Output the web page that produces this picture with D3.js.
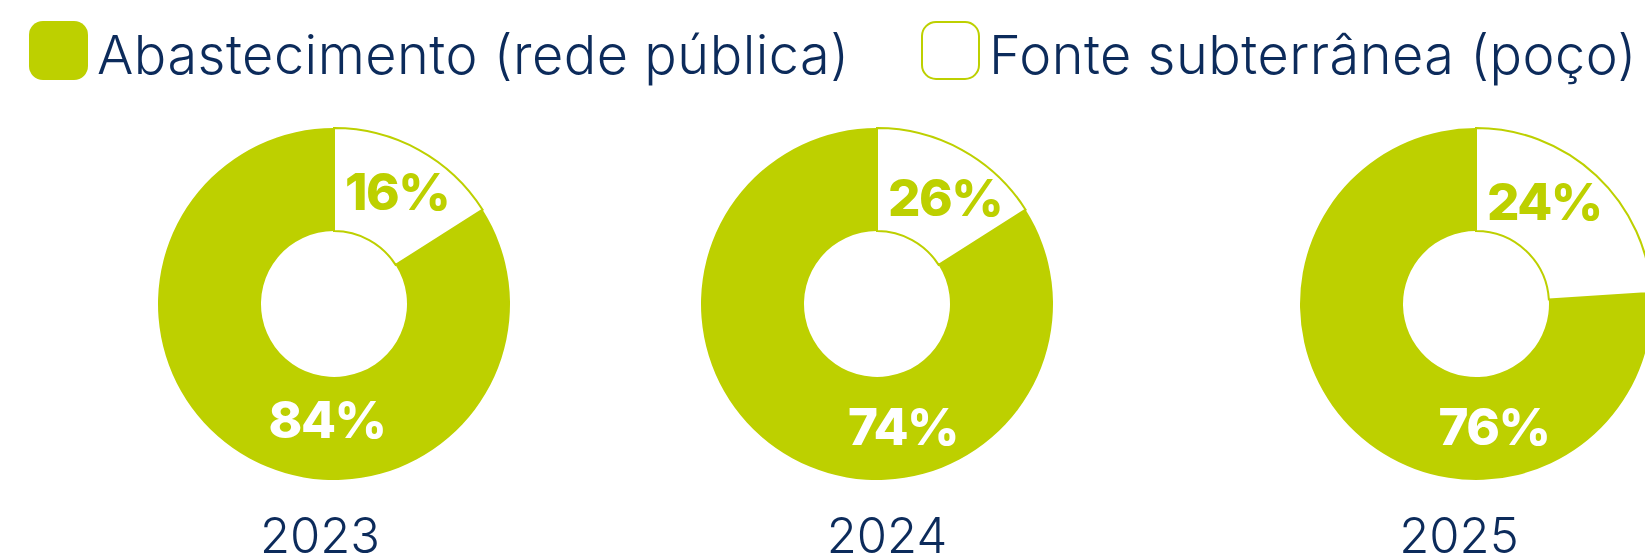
<!DOCTYPE html>
<meta charset="utf-8">
<style>
body { margin: 0; background: #fff; }
text { font-family: Inter, "Open Sans", sans-serif; }
.legend text, .year { fill: #0c2b5b; font-weight: 300; }
.legend text { letter-spacing: 0.5px; }
.pct { font-weight: 800; letter-spacing: -1.5px; }
</style>
<svg width="1645" height="557"></svg>
<script src="https://cdn.jsdelivr.net/npm/d3@7"></script>
<script>

// data
var years = ["2023", "2024", "2025"];
var publicPct = [84, 74, 76];          // Abastecimento (rede pública)
var wellPct = [16, 26, 24];            // Fonte subterrânea (poço)
// the 2024 wedge is drawn the same size as 2023 in the source
var wellWedge = [16, 16, 24];
var seriesNames = ["Abastecimento (rede pública)", "Fonte subterrânea (poço)"];

var green = "#bdd000";

var svg = d3.select("svg"),
    width = +svg.attr("width"),
    height = +svg.attr("height");

// panel layout (hand placed in the original, not evenly spaced)
var centerX = d3.scaleOrdinal().domain(years).range([334, 877, 1476]);
var yearX = d3.scaleOrdinal().domain(years).range([320, 887, 1459]);
var cy = 304;
var smallDy = [-94, -88, -84];
var bigDx = [-7, 26, 18];
var bigDy = [134, 141, 141];

var arc = d3.arc()
    .innerRadius(73)
    .outerRadius(176);

var pie = d3.pie()
    .sort(null)
    .value(function(d) { return d.v; });

// legend
var legend = svg.append("g").attr("class", "legend");
var legendX = [29, 921];
seriesNames.forEach(function(name, i) {
  var g = legend.append("g").attr("transform", "translate(" + legendX[i] + ",21)");
  g.append("rect")
      .attr("x", i ? 1 : 0)
      .attr("y", i ? 1 : 0)
      .attr("width", i ? 57 : 59)
      .attr("height", i ? 57 : 59)
      .attr("rx", 14)
      .attr("fill", i ? "#fff" : green)
      .attr("stroke", i ? green : "none")
      .attr("stroke-width", 2);
  g.append("text")
      .attr("x", 68)
      .attr("y", 53)
      .attr("font-size", 54)
      .text(name);
});

// donuts
years.forEach(function(yr, i) {
  var g = svg.append("g")
      .attr("transform", "translate(" + centerX(yr) + "," + cy + ")");

  var arcs = pie([{k: "well", v: wellWedge[i]}, {k: "public", v: 100 - wellWedge[i]}]);

  g.selectAll("path")
    .data(arcs)
    .enter().append("path")
      .attr("d", arc)
      .attr("fill", function(d) { return d.data.k == "well" ? "#fff" : green; })
      .attr("stroke", green)
      .attr("stroke-width", function(d) { return d.data.k == "well" ? 2 : 0; })
      .attr("stroke-linejoin", "miter");

  g.append("text")
      .attr("class", "pct")
      .attr("x", 11)
      .attr("y", smallDy[i])
      .attr("font-size", 51)
      .attr("fill", green)
      .text(wellPct[i] + "%");

  g.append("text")
      .attr("class", "pct")
      .attr("x", bigDx[i])
      .attr("y", bigDy[i])
      .attr("text-anchor", "middle")
      .attr("font-size", 51)
      .attr("fill", "#fff")
      .text(publicPct[i] + "%");

  svg.append("text")
      .attr("class", "year")
      .attr("x", yearX(yr))
      .attr("y", 553)
      .attr("text-anchor", "middle")
      .attr("font-size", 49)
      .text(yr);
});

</script>
